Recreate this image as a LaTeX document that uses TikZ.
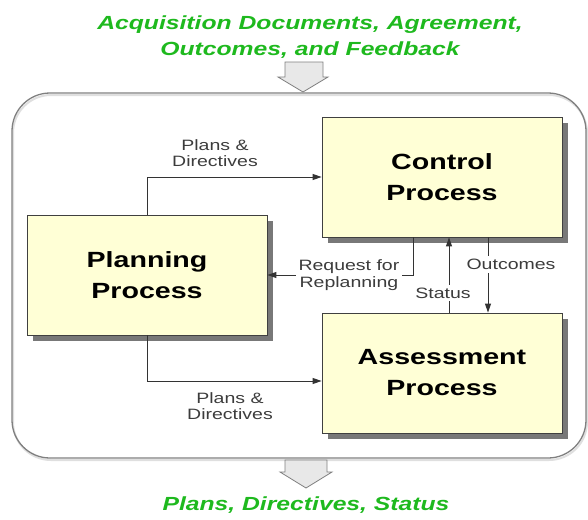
\documentclass[tikz,border=0pt]{standalone}
\usepackage{fontspec}
\setmainfont{Liberation Sans}[FakeStretch=1.3]
\usepackage{tikz}
\usetikzlibrary{arrows.meta,shadows}
\definecolor{titlegreen}{RGB}{30,185,30}
\definecolor{boxyellow}{RGB}{255,255,214}
\definecolor{boxshadow}{RGB}{120,120,120}
\definecolor{labelgray}{RGB}{60,60,60}
\definecolor{arrowfill}{RGB}{232,232,232}

\begin{document}
\begin{tikzpicture}[x=1pt,y=-1pt,>={Triangle[length=9pt,width=6pt]},
    procbox/.style={draw=black!75, fill=boxyellow, line width=0.8pt,
        minimum width=240pt, minimum height=120pt, align=center,
        font=\fontsize{22}{31}\selectfont\bfseries,
        general shadow={fill=boxshadow, shadow xshift=6pt, shadow yshift=-6pt}},
    lbl/.style={fill=white, text=labelgray, align=center, inner sep=3pt,
        font=\fontsize{15}{16.5}\selectfont},
    title/.style={text=titlegreen, align=center,
        font=\fontsize{19}{26}\selectfont\bfseries\itshape},
    link/.style={draw=black!80, line width=1pt}]
    \useasboundingbox (0,0) rectangle (588,519);

    % outer frame
    \node[draw=gray, line width=1.3pt, rounded corners=38pt,
        minimum width=574pt, minimum height=365pt,
        general shadow={draw=gray!25, line width=2pt, shadow xshift=1pt, shadow yshift=-2pt}]
        (frame) at (299,275.5) {};

    % inputs and outputs
    \node[title] (intitle) at (310,37) {Acquisition Documents, Agreement,\\Outcomes, and Feedback};
    \node[title] (outtitle) at (306,505) {Plans, Directives, Status};
    \draw[draw=gray, fill=arrowfill, line width=0.8pt]
        (285,62) -- (323,62) -- (323,77) -- (328,77) -- (303,92) -- (278,77) -- (285,77) -- cycle;
    \draw[draw=gray, fill=arrowfill, line width=0.8pt]
        (285,460) -- (327,460) -- (327,472) -- (332,472) -- (306,488) -- (280,472) -- (285,472) -- cycle;

    % processes
    \node[procbox] (plan) at (147,275) {Planning\\Process};
    \node[procbox] (ctrl) at (442,177) {Control\\Process};
    \node[procbox] (assess) at (442,373) {Assessment\\Process};

    % flows
    \draw[link,->] (plan.north) |- (ctrl.west);
    \node[lbl, fill=none] (pdup) at (215,153) {Plans \&\\Directives};
    \draw[link,->] (plan.south) |- ([yshift=-8pt]assess.west);
    \node[lbl, fill=none] (pddown) at (230,406) {Plans \&\\Directives};
    \draw[link,->] ([xshift=-29pt]ctrl.south) |- node[lbl, pos=0.72] (replan) {Request for\\Replanning} (plan.east);
    \draw[link,->] ([xshift=7pt]assess.north) -- node[lbl, pos=0.26, xshift=-6pt] (status) {Status} ([xshift=7pt]ctrl.south);
    \draw[link,->] ([xshift=46pt]ctrl.south) -- node[lbl, pos=0.36, xshift=23pt] (outc) {Outcomes} ([xshift=46pt]assess.north);
\end{tikzpicture}
\end{document}
